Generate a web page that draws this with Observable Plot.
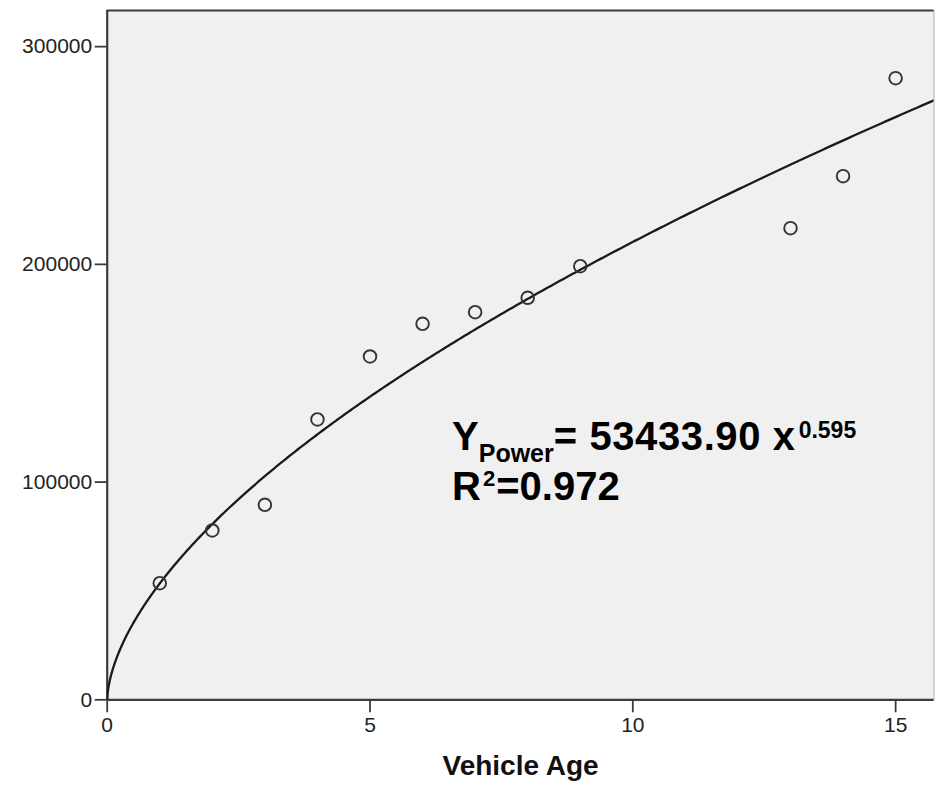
<!DOCTYPE html>
<html>
<head>
<meta charset="utf-8">
<script src="https://cdn.jsdelivr.net/npm/d3@7"></script>
<script src="https://cdn.jsdelivr.net/npm/@observablehq/plot@0.6"></script>
<style>
  html, body { margin: 0; padding: 0; background: #ffffff; }
  #chart svg { display: block; }
</style>
</head>
<body>
<div id="chart"></div>
<script>
// ---- data ----
const vehicleAge = [1, 2, 3, 4, 5, 6, 7, 8, 9, 13, 14, 15];
const cost = [53560, 77770, 89570, 128760, 157690, 172710, 178040, 184660, 199170, 216630, 240520, 285530];
const xTicks = [0, 5, 10, 15];
const yTicks = [0, 100000, 200000, 300000];
const xDomain = [0, 15.73];
const yDomain = [0, 316600];
// fitted power model printed on the chart: Y = 53433.90 x^0.595
const fitCoefficient = [53433.90];
const fitExponent = [0.595];
const xLabel = "Vehicle Age";
const eqMain = "Y";
const eqSub = "Power";
const eqRest = "= 53433.90 x";
const eqSup = "0.595";
const r2Lead = "R";
const r2Sup = "2";
const r2Rest = "=0.972";
const annotationAt = [6.57, 114500];

const points = vehicleAge.map((x, i) => ({x, y: cost[i]}));
const nCurve = 400;
const curve = d3.range(nCurve + 1).map(i => {
  const x = xDomain[1] * (i / nCurve) ** 2;
  return {x, y: fitCoefficient[0] * Math.pow(x, fitExponent[0])};
});

const W = 935, H = 791;
const chart = Plot.plot({
  width: W,
  height: H,
  marginLeft: 106.7,
  marginRight: 1.5,
  marginTop: 10,
  marginBottom: 91.7,
  style: {background: "#ffffff", fontFamily: "Arial, 'Liberation Sans', sans-serif"},
  x: {domain: xDomain, ticks: xTicks, label: null},
  y: {domain: yDomain, ticks: yTicks, label: null},
  marks: [
    Plot.frame({fill: "#f0f0f0", stroke: "#b0b0b0", strokeWidth: 1}),
    Plot.ruleX([xDomain[0]], {stroke: "#3c3c3c", strokeWidth: 2.2}),
    Plot.ruleY([yDomain[0]], {stroke: "#3c3c3c", strokeWidth: 2.2}),
    Plot.ruleY([yDomain[1]], {stroke: "#3c3c3c", strokeWidth: 2.2}),
    Plot.line(curve, {x: "x", y: "y", stroke: "#1a1a1a", strokeWidth: 2.3, clip: true}),
    Plot.dot(points, {x: "x", y: "y", r: 6.3, stroke: "#333333", strokeWidth: 1.9, fill: "none"}),
    Plot.axisX({ticks: xTicks, tickSize: 13, tickPadding: 4, fontSize: 21, stroke: "#3c3c3c", strokeWidth: 1.8, color: "#222", tickFormat: d3.format("d"), label: null}),
    Plot.axisY({ticks: yTicks, tickSize: 12, tickPadding: 3, fontSize: 21, stroke: "#3c3c3c", strokeWidth: 1.8, color: "#222", tickFormat: d3.format("d"), label: null}),
    Plot.text([xLabel], {frameAnchor: "bottom", dy: 75, fontSize: 28, fontWeight: "bold", fill: "#111"})
  ]
});

document.getElementById("chart").appendChild(chart);

// equation annotation positioned through the chart's own scales
const svg = d3.select(chart.tagName.toLowerCase() === "svg" ? chart : chart.querySelector("svg"));
const xs = chart.scale("x"), ys = chart.scale("y");
const sx = d3.scaleLinear(xs.domain, xs.range);
const sy = d3.scaleLinear(ys.domain, ys.range);
const ax = sx(annotationAt[0]), ay = sy(annotationAt[1]);
const g = svg.append("g")
  .attr("font-family", "Arial, 'Liberation Sans', sans-serif")
  .attr("font-weight", "bold")
  .attr("text-anchor", "start")
  .attr("fill", "#000");
const t1 = g.append("text").attr("x", ax).attr("y", ay).attr("font-size", 40);
t1.append("tspan").text(eqMain);
t1.append("tspan").attr("dy", 11.7).attr("font-size", 25).text(eqSub);
t1.append("tspan").attr("dy", -11.7).attr("letter-spacing", 0.6).text(eqRest);
t1.append("tspan").attr("dy", -12).attr("dx", 3).attr("font-size", 23).text(eqSup);
const t2 = g.append("text").attr("x", ax).attr("y", ay + 50).attr("font-size", 40);
t2.append("tspan").text(r2Lead);
t2.append("tspan").attr("dy", -14).attr("dx", 2).attr("font-size", 22).text(r2Sup);
t2.append("tspan").attr("dy", 14).attr("dx", 1).text(r2Rest);
</script>
</body>
</html>
